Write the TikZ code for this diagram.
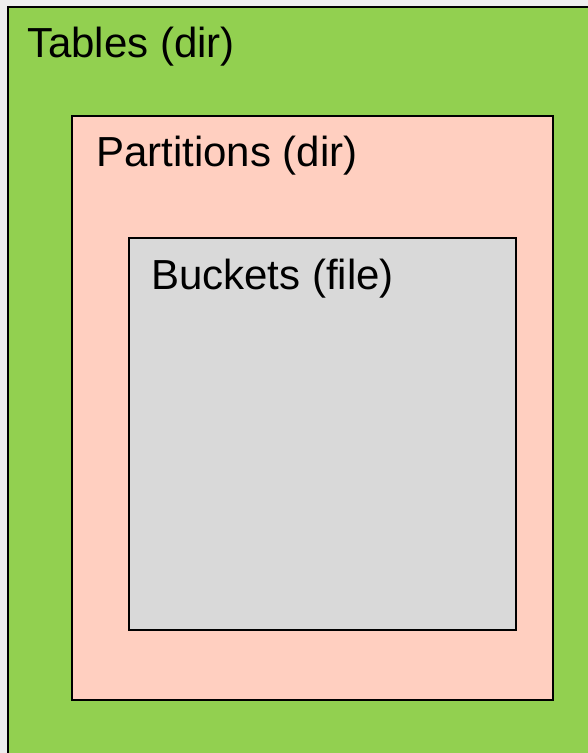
\documentclass[tikz,border=0pt]{standalone}
\usepackage{fontspec}
\setmainfont{Liberation Sans}
\definecolor{tgreen}{HTML}{92D050}
\definecolor{ppink}{HTML}{FFCFC0}
\definecolor{bgray}{HTML}{D9D9D9}
\definecolor{bgback}{HTML}{EEEEEE}
\tikzset{
  boxstyle/.style={draw=black, line width=1.6pt},
  lbl/.style={anchor=base west, inner sep=0pt, font=\fontsize{42}{50}\selectfont, text=black}
}
\begin{document}
\begin{tikzpicture}[x=1pt,y=1pt]
\useasboundingbox (0,0) rectangle (588,753);
\clip (0,0) rectangle (588,753);
\fill[bgback] (0,0) rectangle (588,753);
% Tables
\path[boxstyle, fill=tgreen] (8,746) rectangle (600,-10);
\node[lbl] (tables) at (27,695) {Tables (dir)};
% Partitions
\path[boxstyle, fill=ppink] (72,637) rectangle (553,53);
\node[lbl] (parts) at (96,586) {Partitions (dir)};
% Buckets
\path[boxstyle, fill=bgray] (129,515) rectangle (516,123);
\node[lbl] (buckets) at (151,463) {Buckets (file)};
\end{tikzpicture}
\end{document}
